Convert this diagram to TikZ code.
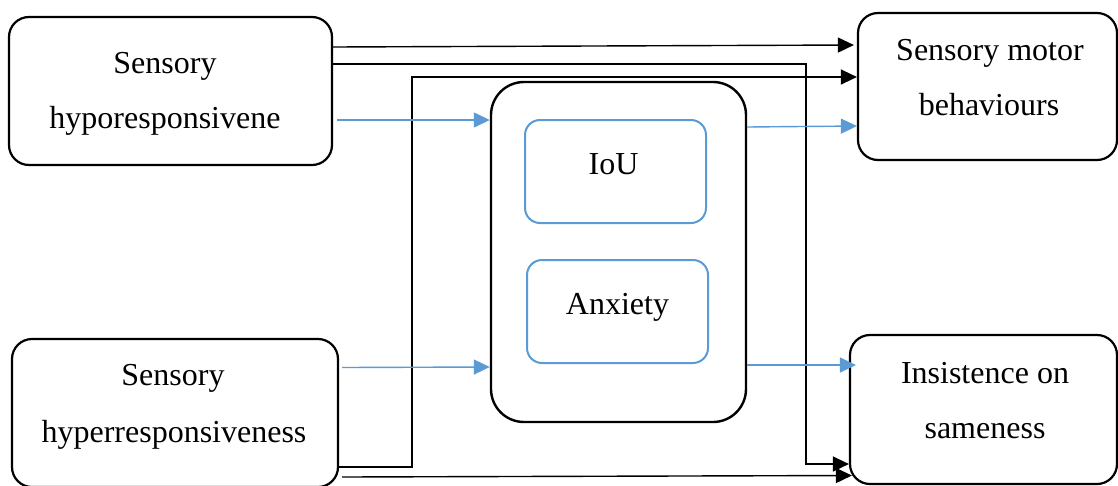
\documentclass[tikz,border=0pt]{standalone}
\usepackage{fontspec}
\setmainfont{Liberation Serif}
\usetikzlibrary{arrows.meta}
\definecolor{lblue}{HTML}{5B9BD5}
\begin{document}
\begin{tikzpicture}[x=1pt,y=-1pt,
  outerbox/.style={draw=black,line width=2.2pt,rounded corners=20pt,inner sep=0pt},
  bigbox/.style={draw=black,line width=2.4pt,rounded corners=33pt,inner sep=0pt},
  innerbox/.style={draw=lblue,line width=2pt,rounded corners=15pt,inner sep=0pt},
  txt/.style={anchor=base,inner sep=0pt,font=\fontsize{32}{38}\selectfont},
  blk/.style={draw=black,line width=1.4pt,-{Triangle[length=16pt,width=15pt]}},
  blu/.style={draw=lblue,line width=1.4pt,-{Triangle[length=16pt,width=15pt]}}
]
\useasboundingbox (0,0) rectangle (1118,485);
\fill[white] (0,0) rectangle (1118,485);

% boxes
\node[outerbox,minimum width=323pt,minimum height=148pt] (A) at (170.5,91) {};
\node[outerbox,minimum width=326pt,minimum height=148pt] (B) at (175,413) {};
\node[outerbox,minimum width=259pt,minimum height=147pt] (C) at (987.5,86.5) {};
\node[outerbox,minimum width=267pt,minimum height=149pt] (D) at (983.5,409.5) {};
\node[bigbox,minimum width=255pt,minimum height=340pt] (M) at (618.5,252) {};
\node[innerbox,minimum width=181pt,minimum height=103pt] (I) at (615.5,171.5) {};
\node[innerbox,minimum width=181pt,minimum height=103pt] (X) at (617.5,311.5) {};

% texts
\node[txt] (A1) at (165,73) {Sensory};
\node[txt] (A2) at (165,128) {hyporesponsivene};
\node[txt] (B1) at (173,385) {Sensory};
\node[txt] (B2) at (174,442) {hyperresponsiveness};
\node[txt] (C1) at (990,60) {Sensory motor};
\node[txt] (C2) at (989,115) {behaviours};
\node[txt] (D1) at (985,383) {Insistence on};
\node[txt] (D2) at (985,438) {sameness};
\node[txt] (I1) at (613.5,174) {IoU};
\node[txt] (X1) at (617.5,314) {Anxiety};

% black connectors
\draw[blk] ([yshift=44pt]A.east) -- ([xshift=-3pt,yshift=41.5pt]C.west);
\draw[blk] ([yshift=27pt]A.east) -| ([xshift=-43pt,yshift=-54.5pt]D.west) -- ([yshift=-54.5pt]D.west);
\draw[blk] ([yshift=-54pt]B.east) -- ([xshift=73pt,yshift=-54pt]B.east) |- ([yshift=9.5pt]C.west);
\draw[blk] ([xshift=3pt,yshift=-64pt]B.east) -- ([xshift=3pt,yshift=-66pt]D.west);

% blue connectors
\draw[blu] ([xshift=4pt,yshift=-29pt]A.east) -- ([yshift=132pt]M.west);
\draw[blu] ([xshift=3pt,yshift=45.5pt]B.east) -- ([yshift=-115pt]M.west);
\draw[blu] ([yshift=125pt]M.east) -- ([yshift=-39.5pt]C.west);
\draw[blu] ([yshift=-113pt]M.east) -- ([xshift=7pt,yshift=44.5pt]D.west);
\end{tikzpicture}
\end{document}
